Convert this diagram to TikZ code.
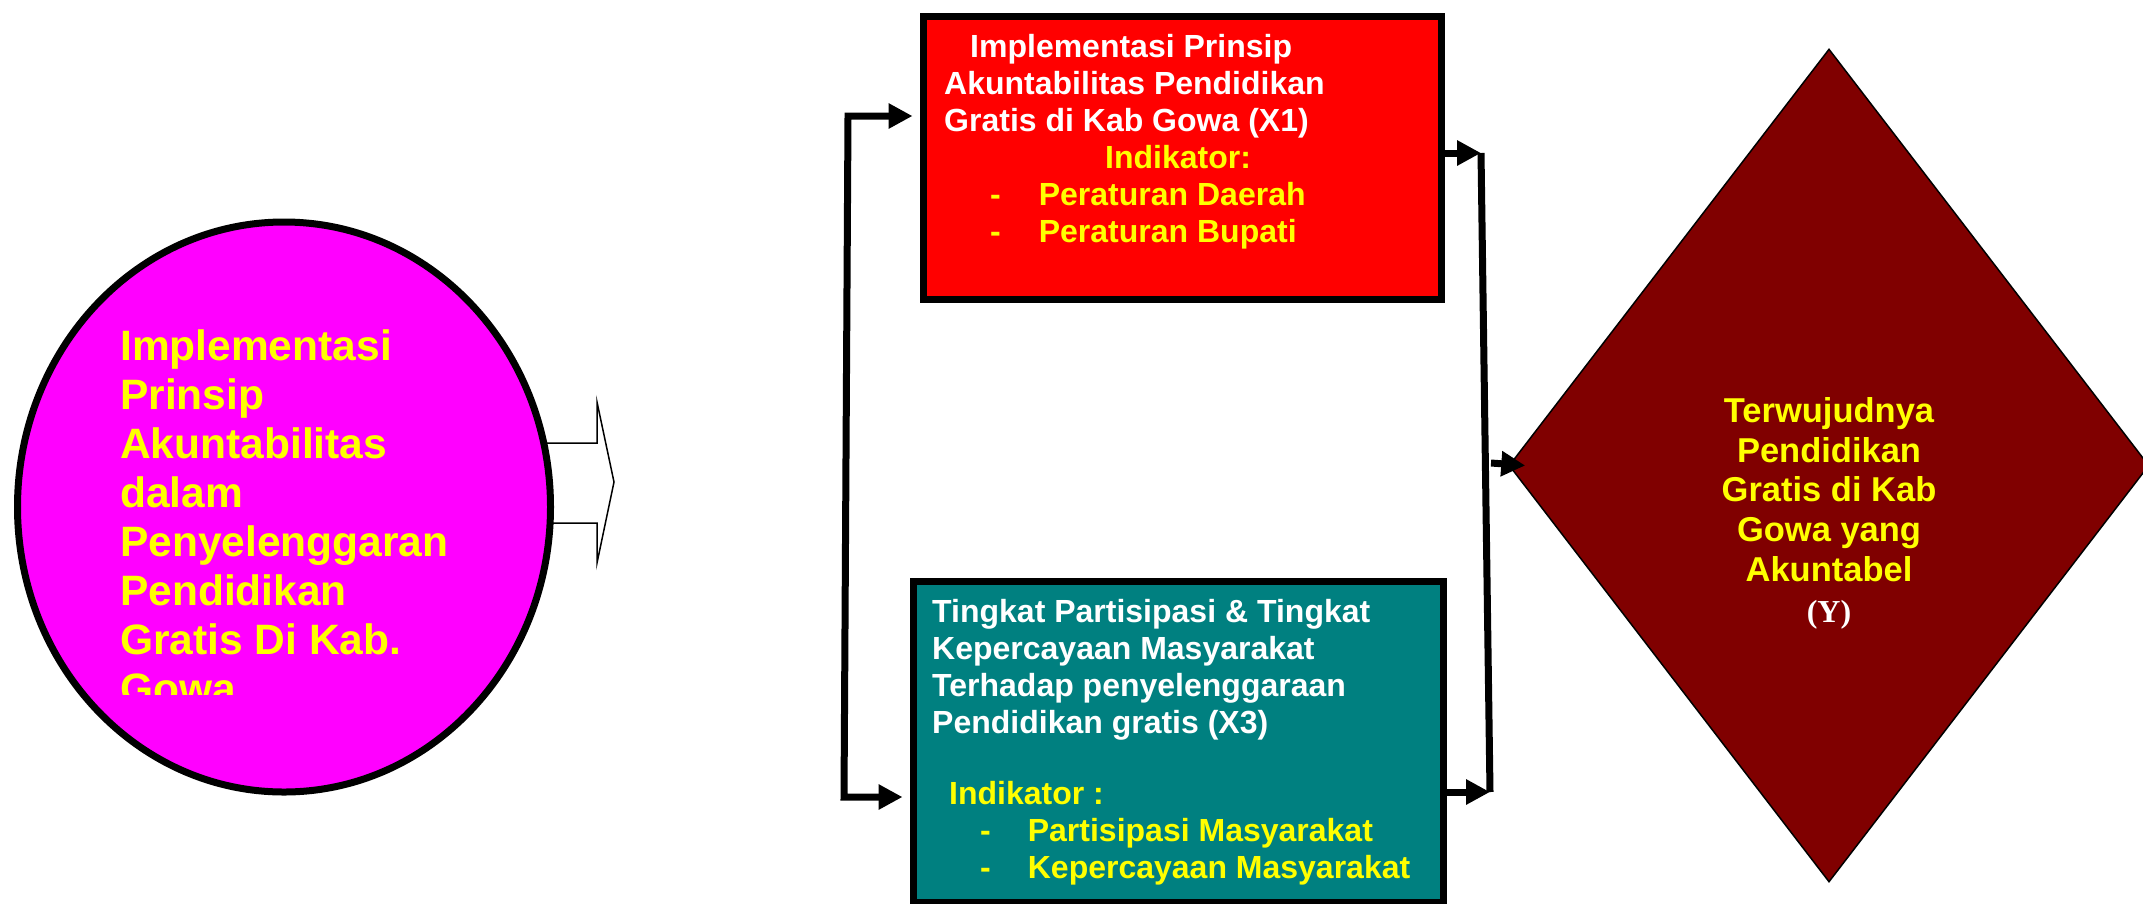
\documentclass[tikz,border=0pt]{standalone}
\usepackage{fontspec}
\setmainfont{Liberation Sans}
\newfontfamily\serifbold{Liberation Serif}
\usetikzlibrary{arrows.meta,shapes.geometric}

\definecolor{boxred}{HTML}{FF0000}
\definecolor{boxteal}{HTML}{008080}
\definecolor{pinkfill}{HTML}{FF00FF}
\definecolor{goalred}{HTML}{800000}
\definecolor{textyellow}{HTML}{FFFF00}

\begin{document}
\begin{tikzpicture}[x=1pt,y=-1pt,>={Triangle[length=24pt,width=24pt]},
    main box/.style={draw,line width=7pt,inner sep=0pt,anchor=north west},
    link/.style={line width=7pt,->},
    rail/.style={line width=7pt},
    box text/.style={anchor=base west,inner sep=0pt,align=left,
                     font=\bfseries\fontsize{32pt}{37pt}\selectfont}]
  \useasboundingbox (0,0) rectangle (2143,903);

  % hollow arrow out of the circle
  \draw[line width=1.5pt,fill=white] (545,443) -- (597,443) -- (597,402) -- (614,482)
    -- (597,563) -- (597,523) -- (545,523) -- cycle;

  % source circle
  \node[ellipse,draw,line width=7pt,fill=pinkfill,inner sep=0pt,
        minimum width=533pt,minimum height=570pt] (source) at (284,507) {};
  \begin{scope}
    \clip (0,0) rectangle (2143,694);
    % base = last line
    \node[anchor=base west,inner sep=0pt,align=left,text=textyellow,
          font=\bfseries\fontsize{42.5pt}{49pt}\selectfont] (sourcetext) at (120,703)
      {Implementasi\\Prinsip\\Akuntabilitas\\dalam\\Penyelenggaran\\Pendidikan\\Gratis Di Kab.\\Gowa};
  \end{scope}

  % X1 and X3 boxes
  \node[main box,fill=boxred,minimum width=518pt,minimum height=283pt] (x1box) at (919.5,12.5) {};
  \node[main box,fill=boxteal,minimum width=530pt,minimum height=321pt] (x3box) at (909.5,577.5) {};

  \node[box text,text=white] (x1text) at (944,242.5)
    {\hspace*{26pt}Implementasi Prinsip\\
     Akuntabilitas Pendidikan\\
     Gratis di Kab Gowa (X1)\\
     \textcolor{textyellow}{\hspace*{161pt}Indikator:}\\
     \textcolor{textyellow}{\hspace*{46pt}-\hspace*{38pt}Peraturan Daerah}\\
     \textcolor{textyellow}{\hspace*{46pt}-\hspace*{38pt}Peraturan Bupati}};

  \node[box text,text=white] (x3text) at (932,878.5)
    {Tingkat Partisipasi \& Tingkat\\
     Kepercayaan Masyarakat\\
     Terhadap penyelenggaraan\\
     Pendidikan gratis (X3)\\[34pt]
     \textcolor{textyellow}{\hspace*{17pt}Indikator :}\\
     \textcolor{textyellow}{\hspace*{48pt}-\hspace*{37pt}Partisipasi Masyarakat}\\
     \textcolor{textyellow}{\hspace*{48pt}-\hspace*{37pt}Kepercayaan Masyarakat}};

  % goal diamond
  \node[diamond,draw,line width=1.5pt,fill=goalred,inner sep=0pt,
        minimum width=640pt,minimum height=833pt] (goal) at (1829,465.5) {};
  \node[anchor=base,align=center,inner sep=0pt,text=textyellow,
        font=\bfseries\fontsize{34.5pt}{39.6pt}\selectfont] (goaltext) at (1829,622)
    {Terwujudnya\\Pendidikan\\Gratis di Kab\\Gowa yang\\Akuntabel\\[1.4pt]
     {\serifbold\fontsize{32pt}{39.6pt}\selectfont\color{white}(Y)}};

  % connectors
  \coordinate (lt) at (848,116);
  \coordinate (lb) at (844,797);
  \coordinate (rt) at (1481,153);
  \coordinate (rb) at (1490,792);
  \coordinate (rm) at (1491,463);

  \draw[link,<->,shorten <=7pt,shorten >=7pt] (x1box.west |- lt) -- (lt) -- (lb) -- (x3box.west |- lb);
  \draw[rail] (rt) -- (rb);
  \draw[link] (x1box.east |- rt) -- (rt);
  \draw[link] (x3box.east |- rb) -- (rb);
  \draw[link] (rm) -- ([xshift=17pt]goal.west);
\end{tikzpicture}
\end{document}
